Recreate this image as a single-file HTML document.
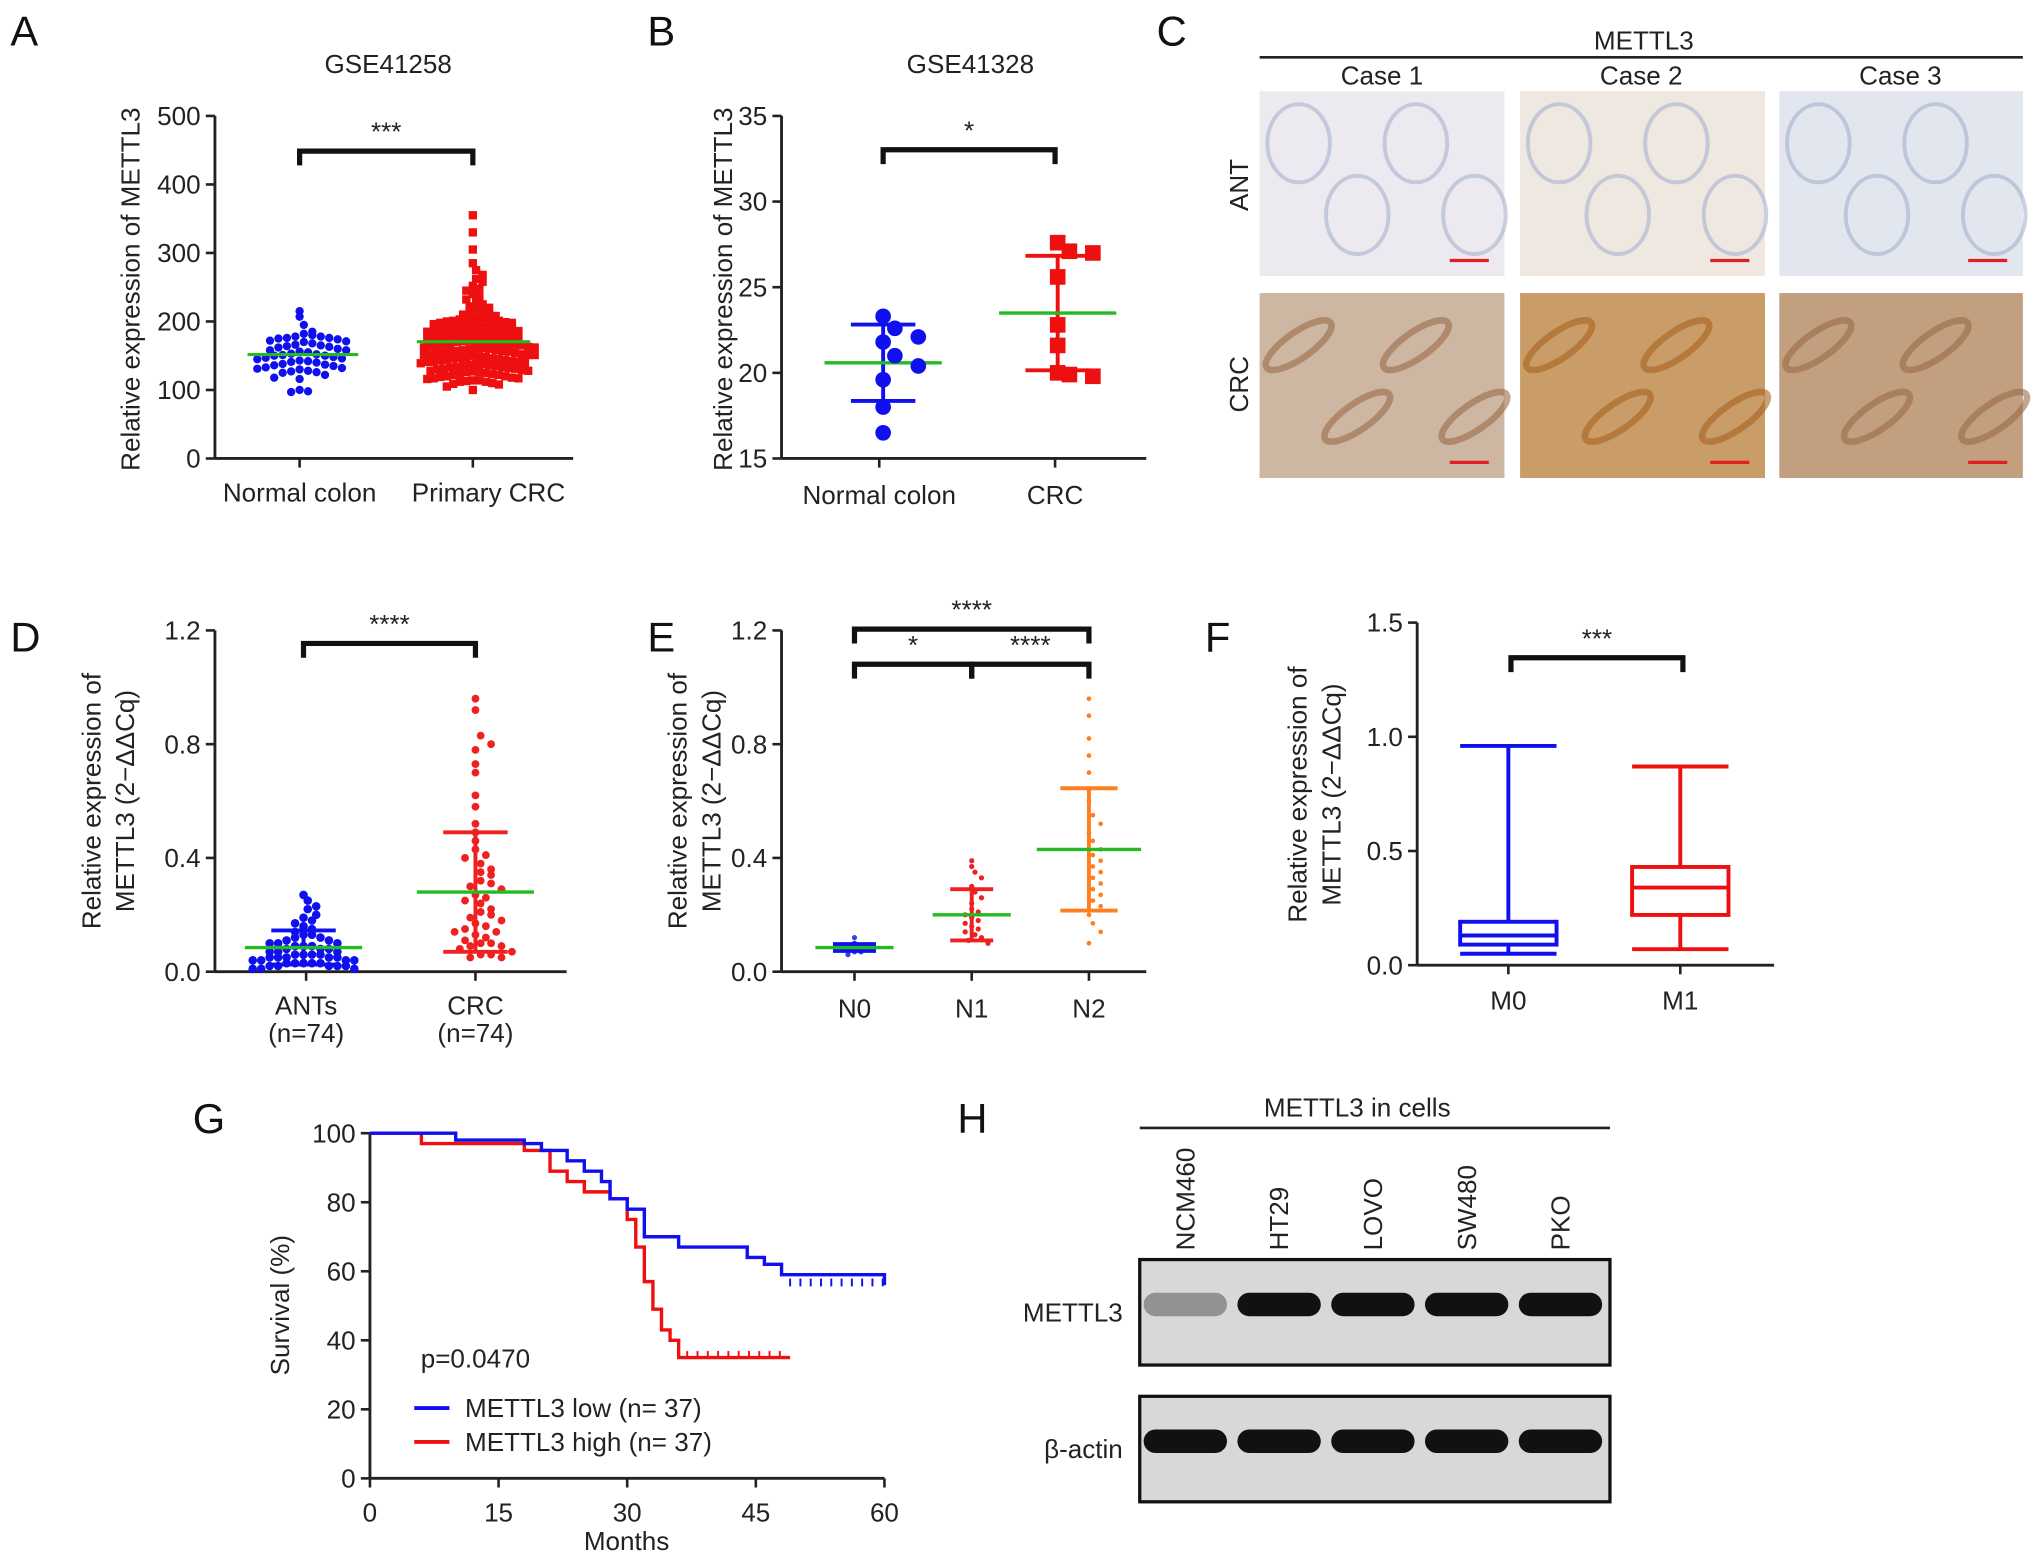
<!DOCTYPE html>
<html><head><meta charset="utf-8"><style>
html,body{margin:0;padding:0;background:#fff}
svg{display:block;font-family:"Liberation Sans",Arial,sans-serif}
</style></head><body>
<svg id="fig" width="2032" height="1556" viewBox="0 0 1560 1194.6" xmlns="http://www.w3.org/2000/svg">
<g id="root"></g>
</svg>
<script>
// ---------- data ----------
const aNormal=[215,207,195,185,182,180,178,178,176,175,174,172,170,168,166,165,163,162,160,158,156,155,153,152,150,150,148,146,145,143,142,140,138,136,135,133,132,130,128,126,125,122,118,116,100,98,97,176,171,164,158,151,147,141,137,131,127];
const aCRC=[355,330,305,285,275,268,262,258,252,248,245,240,236,232,228,225,222,220,218,215,212,210,208,206,205,203,201,200,198,196,195,193,191,190,188,186,185,183,182,180,178,177,175,174,172,171,170,168,167,165,164,162,161,160,158,157,155,154,152,151,150,148,147,145,144,142,141,140,138,136,135,133,132,130,128,126,125,122,120,118,116,114,112,110,108,105,100,
210,206,202,199,195,192,189,186,183,180,178,175,172,170,168,165,163,160,158,156,153,151,149,146,144,141,139,137,134,131,129,126,123,120,117,114,112,109,
205,198,193,187,181,176,171,166,161,156,151,146,141,136,131,127,122,117,113,
201,194,188,183,177,173,167,162,157,152,148,143,138,133,128,124,119];
const bNormal=[23.3,22.6,22.1,21.8,21.0,20.4,19.6,18.0,16.5];
const bCRC=[27.6,27.1,27.0,25.6,22.8,21.6,20.0,19.9,19.8];
const dANT=[0.27,0.25,0.23,0.22,0.2,0.19,0.18,0.17,0.16,0.15,0.14,0.13,0.13,0.12,0.11,0.1,0.1,0.09,0.09,0.08,0.08,0.07,0.07,0.06,0.06,0.05,0.05,0.05,0.04,0.04,0.03,0.03,0.03,0.02,0.02,0.02,0.01,0.01,0.12,0.1,0.08,0.07,0.06,0.05,0.04,0.04,0.03,0.02,0.02,0.01,0.11,0.09,0.06,0.05,0.03];
const dCRC=[0.96,0.92,0.83,0.8,0.78,0.73,0.7,0.62,0.58,0.52,0.49,0.46,0.43,0.41,0.38,0.36,0.34,0.32,0.3,0.29,0.27,0.26,0.24,0.22,0.21,0.2,0.18,0.17,0.16,0.15,0.14,0.13,0.12,0.11,0.1,0.1,0.09,0.08,0.07,0.06,0.05,0.4,0.35,0.31,0.25,0.19,0.14,0.09,0.06,0.05];
const eN0=[0.12,0.1,0.09,0.09,0.08,0.08,0.07,0.07,0.06];
const eN1=[0.39,0.37,0.35,0.33,0.3,0.28,0.26,0.24,0.22,0.21,0.2,0.19,0.18,0.17,0.16,0.15,0.14,0.13,0.12,0.11,0.1];
const eN2=[0.96,0.9,0.82,0.76,0.7,0.64,0.6,0.55,0.52,0.49,0.46,0.43,0.41,0.39,0.37,0.35,0.33,0.31,0.29,0.27,0.25,0.23,0.2,0.17,0.14,0.1];
const fM0=[0.05,0.09,0.13,0.19,0.96];
const fM1=[0.07,0.22,0.34,0.43,0.87];
const gLowT=[0,10,18,20,23,25,27,28,30,32,36,44,46,48,60];
const gLowS=[100,98,97,95,92,89,86,81,78,70,67,64,62,59,56];
const gHighT=[0,6,18,21,23,25,28,30,31,32,33,34,35,36,49];
const gHighS=[100,97,95,89,86,83,81,75,67,57,49,43,40,35,35];
const hLabels=["NCM460","HT29","LOVO","SW480","PKO"];
const hMettl3=[0.35,1,1,1,1];

// ---------- helpers ----------
const NS="http://www.w3.org/2000/svg";const root=document.getElementById('root');
function el(tag,attrs,parent,text){const e=document.createElementNS(NS,tag);for(const k in attrs)e.setAttribute(k,attrs[k]);if(text!==undefined)e.textContent=text;(parent||root).appendChild(e);return e;}
function txt(x,y,s,size,opts,name){const t=el('text',Object.assign({x:x,y:y,'font-size':size,fill:'#222'},opts||{}),null,s);

return t;}
function line(x1,y1,x2,y2,c,w,name){const l=el('line',{x1,y1,x2,y2,stroke:c||'#222','stroke-width':w||2.2});

return l;}
function yAxis(x,y0,y1,ticks,min,max,fmt){const sc=v=>y0-(v-min)/(max-min)*(y0-y1);line(x,y0,x,y1,'#222',2.2,'y-axis');
ticks.forEach(v=>{line(x-7,sc(v),x,sc(v),'#222',2,'y-tick');txt(x-11,sc(v)+7,fmt(v),20,{'text-anchor':'end'},'y-tick-label');});return sc;}
function mean(a){return a.reduce((s,v)=>s+v,0)/a.length}
function sd(a){const m=mean(a);return Math.sqrt(a.reduce((s,v)=>s+(v-m)*(v-m),0)/(a.length-1))}
function swarm(vals,cx,sc,color,shape,r,binPx,step,name){const bins={};vals.forEach(v=>{const y=sc(v);const b=Math.round(y/binPx);(bins[b]=bins[b]||[]).push(y)});
Object.values(bins).forEach(arr=>{arr.sort((a,b)=>a-b);arr.forEach((y,i)=>{const x=cx+((i%2?1:-1)*Math.ceil(i/2))*step+(arr.length%2?0:step/2);let m;
if(shape==='sq')m=el('rect',{x:x-r,y:y-r,width:2*r,height:2*r,fill:color});else m=el('circle',{cx:x,cy:y,r:r,fill:color});

});});}
function bracket(x1,x2,y,star,name){const p=el('path',{d:`M${x1},${y+11}V${y}H${x2}V${y+11}`,fill:'none',stroke:'#111','stroke-width':4});

txt((x1+x2)/2,y-8,star,20,{'text-anchor':'middle'},'significance-stars');}
function errbar(cx,m,s,sc,col,hw,mcol,name){line(cx,sc(m+s),cx,sc(m-s),col,3,name);line(cx-hw*0.55,sc(m+s),cx+hw*0.55,sc(m+s),col,3,name);line(cx-hw*0.55,sc(m-s),cx+hw*0.55,sc(m-s),col,3,name);line(cx-hw,sc(m),cx+hw,sc(m),mcol,2.6,name+'-mean');}
function ylab(x,y,s,name){txt(0,0,s,20,{'text-anchor':'middle',transform:`translate(${x},${y}) rotate(-90)`},name);}

// panel letters
[["A",8,35],["B",497,35],["C",888,35],["D",8,500],["E",497,500],["F",925,500],["G",148,870],["H",735,870]].forEach(a=>txt(a[1],a[2],a[0],32,{fill:'#111'},'panel-letter-'+a[0].toLowerCase()));

// ---------- A ----------
{const sc=yAxis(165,352,89,[0,100,200,300,400,500],0,500,v=>v);line(165,352,440,352,'#222',2.2,'x-axis');
line(230,352,230,359,'#222',2,'x-tick');line(363,352,363,359,'#222',2,'x-tick');
txt(298,56,"GSE41258",20,{'text-anchor':'middle'},'chart-title');ylab(107,222,"Relative expression of METTL3",'y-axis-title');
txt(230,385,"Normal colon",20,{'text-anchor':'middle'},'x-label');txt(375,385,"Primary CRC",20,{'text-anchor':'middle'},'x-label');
bracket(230,363,116,"***",'significance-bracket');
swarm(aNormal,230,sc,'#1010ee','c',3.2,7,6.5,'normal-point');
swarm(aCRC,363,sc,'#ee1010','sq',3.2,6,5,'crc-point');
line(190,sc(mean(aNormal)),275,sc(mean(aNormal)),'#22bb22',2.4,'mean-line');line(320,sc(mean(aCRC)),407,sc(mean(aCRC)),'#22bb22',2.4,'mean-line');}

// ---------- B ----------
{const sc=yAxis(600,352,89,[15,20,25,30,35],15,35,v=>v);line(600,352,880,352,'#222',2.2,'x-axis');
line(675,352,675,359,'#222',2,'x-tick');line(810,352,810,359,'#222',2,'x-tick');
txt(745,56,"GSE41328",20,{'text-anchor':'middle'},'chart-title');ylab(562,222,"Relative expression of METTL3",'y-axis-title');
txt(675,387,"Normal colon",20,{'text-anchor':'middle'},'x-label');txt(810,387,"CRC",20,{'text-anchor':'middle'},'x-label');
bracket(678,810,115,"*",'significance-bracket');
errbar(678,mean(bNormal),sd(bNormal),sc,'#1010ee',45,'#22bb22','normal-errorbar');
errbar(812,mean(bCRC),sd(bCRC),sc,'#ee1010',45,'#22bb22','crc-errorbar');
swarm(bNormal,678,sc,'#1010ee','c',6,14,18,'normal-point');swarm(bCRC,812,sc,'#ee1010','sq',6,14,18,'crc-point');}

// ---------- C ----------
{txt(1262,38,"METTL3",20,{'text-anchor':'middle'},'ihc-title');line(967,44,1553,44,'#222',2,'ihc-header-line');
["Case 1","Case 2","Case 3"].forEach((c,i)=>txt(1061+i*199,65,c,20,{'text-anchor':'middle'},'case-label'));
txt(0,0,"ANT",20,{'text-anchor':'middle',transform:'translate(958,142) rotate(-90)'},'row-label');
txt(0,0,"CRC",20,{'text-anchor':'middle',transform:'translate(958,295) rotate(-90)'},'row-label');
const xs=[967,1167,1366],ws=[188,188,187];const ant=['#eceaf0','#eee8e0','#e2e6ee'],crc=['#cdb6a2','#c99c68','#c29f7e'];
xs.forEach((x,i)=>{[[70,ant[i]],[225,crc[i]]].forEach(([y,c],j)=>{const r=el('rect',{x:x,y:y,width:ws[i],height:142,fill:c});


for(let k=0;k<4;k++){const e=el('ellipse',{cx:x+30+k*45,cy:y+40+(k%2)*55,rx:j?30:24,ry:j?10:30,fill:'none',stroke:j?(i==1?'#a8641e':'#9a6a48'):'#a8b0d0','stroke-width':j?5:3,opacity:0.6,transform:j?`rotate(-35 ${x+30+k*45} ${y+40+(k%2)*55})`:''});

}
line(x+ws[i]-42,y+130,x+ws[i]-12,y+130,'#e02020',2.5,'scale-bar');});});}

// ---------- D ----------
{const sc=yAxis(165,746,484,[0,0.4,0.8,1.2],0,1.2,v=>v.toFixed(1));line(165,746,435,746,'#222',2.2,'x-axis');
line(235,746,235,753,'#222',2,'x-tick');line(365,746,365,753,'#222',2,'x-tick');
ylab(77,615,"Relative expression of",'y-axis-title');ylab(103,615,"METTL3 (2\u2212\u0394\u0394Cq)",'y-axis-title');
txt(235,779,"ANTs",20,{'text-anchor':'middle'},'x-label');txt(235,800,"(n=74)",20,{'text-anchor':'middle'},'x-label');
txt(365,779,"CRC",20,{'text-anchor':'middle'},'x-label');txt(365,800,"(n=74)",20,{'text-anchor':'middle'},'x-label');
bracket(233,365,494,"****",'significance-bracket');
swarm(dANT,233,sc,'#1010ee','c',3.3,7,6.5,'ant-point');swarm(dCRC,365,sc,'#ee2020','c',3,8,8,'crc-point');
errbar(233,0.085,0.06,sc,'#1010ee',45,'#22bb22','ant-errorbar');errbar(365,0.28,0.21,sc,'#ee2020',45,'#22bb22','crc-errorbar');}

// ---------- E ----------
{const sc=yAxis(600,746,484,[0,0.4,0.8,1.2],0,1.2,v=>v.toFixed(1));line(600,746,880,746,'#222',2.2,'x-axis');
[656,746,836].forEach(x=>line(x,746,x,753,'#222',2,'x-tick'));
ylab(527,615,"Relative expression of",'y-axis-title');ylab(553,615,"METTL3 (2\u2212\u0394\u0394Cq)",'y-axis-title');
["N0","N1","N2"].forEach((s,i)=>txt(656+i*90,781,s,20,{'text-anchor':'middle'},'x-label'));
bracket(656,836,483,"****",'significance-bracket');bracket(656,746,510,"*",'significance-bracket');bracket(746,836,510,"****",'significance-bracket');
swarm(eN0,656,sc,'#3040ee','c',2,4,5,'n0-point');swarm(eN1,746,sc,'#ee2020','c',2,7,5,'n1-point');swarm(eN2,836,sc,'#ff7f20','c',1.8,9,6,'n2-point');
errbar(656,0.085,0.012,sc,'#1010ee',30,'#22bb22','n0-errorbar');errbar(746,0.2,0.09,sc,'#ee2020',30,'#22bb22','n1-errorbar');errbar(836,0.43,0.215,sc,'#ff7f20',40,'#22bb22','n2-errorbar');}

// ---------- F ----------
{const sc=yAxis(1088,741,478,[0,0.5,1.0,1.5],0,1.5,v=>v.toFixed(1));line(1088,741,1362,741,'#222',2.2,'x-axis');
[1158,1290].forEach(x=>line(x,741,x,748,'#222',2,'x-tick'));
ylab(1003,610,"Relative expression of",'y-axis-title');ylab(1029,610,"METTL3 (2\u2212\u0394\u0394Cq)",'y-axis-title');
txt(1158,775,"M0",20,{'text-anchor':'middle'},'x-label');txt(1290,775,"M1",20,{'text-anchor':'middle'},'x-label');
bracket(1160,1292,505,"***",'significance-bracket');
[[fM0,1158,'#1010ee','m0-box'],[fM1,1290,'#ee1010','m1-box']].forEach(([d,cx,c,n])=>{
const b=el('rect',{x:cx-37,y:sc(d[3]),width:74,height:sc(d[1])-sc(d[3]),fill:'none',stroke:c,'stroke-width':3});


line(cx-37,sc(d[2]),cx+37,sc(d[2]),c,3,'median-line');line(cx,sc(d[3]),cx,sc(d[4]),c,3,'whisker');line(cx,sc(d[1]),cx,sc(d[0]),c,3,'whisker');
line(cx-37,sc(d[4]),cx+37,sc(d[4]),c,3,'whisker-cap');line(cx-37,sc(d[0]),cx+37,sc(d[0]),c,3,'whisker-cap');});}

// ---------- G ----------
{const sc=yAxis(284,1135,870,[0,20,40,60,80,100],0,100,v=>v);const sx=v=>284+v/60*395;line(284,1135,679,1135,'#222',2.2,'x-axis');
[0,15,30,45,60].forEach(v=>{line(sx(v),1135,sx(v),1142,'#222',2,'x-tick');txt(sx(v),1168,v,20,{'text-anchor':'middle'},'x-tick-label');});
txt(481,1190,"Months",20,{'text-anchor':'middle'},'x-axis-title');ylab(222,1002,"Survival (%)",'y-axis-title');
function km(T,S,c,n){let d=`M${sx(T[0])},${sc(S[0])}`;for(let i=1;i<T.length;i++)d+=`H${sx(T[i])}V${sc(S[i])}`;
const p=el('path',{d:d,fill:'none',stroke:c,'stroke-width':2.6});

const last=S[S.length-1],t0=T[T.length-2];for(let t=t0+1;t<=T[T.length-1];t+=1.2)line(sx(t),sc(last)-5,sx(t),sc(last)+1,c,1.5,'censor-tick');}
km(gHighT,gHighS,'#ee1010','high-curve');km(gLowT,gLowS,'#1010ee','low-curve');
txt(323,1050,"p=0.0470",20,{},'p-value');
line(318,1081,345,1081,'#1010ee',3,'legend-swatch-low');txt(357,1088,"METTL3 low (n= 37)",20,{},'legend-entry');
line(318,1107,345,1107,'#ee1010',3,'legend-swatch-high');txt(357,1114,"METTL3 high (n= 37)",20,{},'legend-entry');}

// ---------- H ----------
{txt(1042,857,"METTL3 in cells",20,{'text-anchor':'middle'},'blot-title');line(875,866,1236,866,'#222',2,'blot-header-line');
hLabels.forEach((s,i)=>txt(0,0,s,20,{transform:`translate(${917+i*72},960) rotate(-90)`},'cell-line-label'));
[[967,1048,'METTL3',hMettl3],[1072,1153,'\u03b2-actin',[1,1,1,1,1]]].forEach(([y0,y1,lab,vals])=>{
const r=el('rect',{x:875,y:y0,width:361,height:y1-y0,fill:'#d8d8d8',stroke:'#111','stroke-width':2.5});


txt(862,(y0+y1)/2+7,lab,20,{'text-anchor':'end'},'blot-label');
vals.forEach((v,i)=>{const e=el('rect',{x:878+i*72,y:(y0+y1)/2-15,width:64,height:18,rx:9,fill:'#111',opacity:v});

});});}
</script>
</body></html>
